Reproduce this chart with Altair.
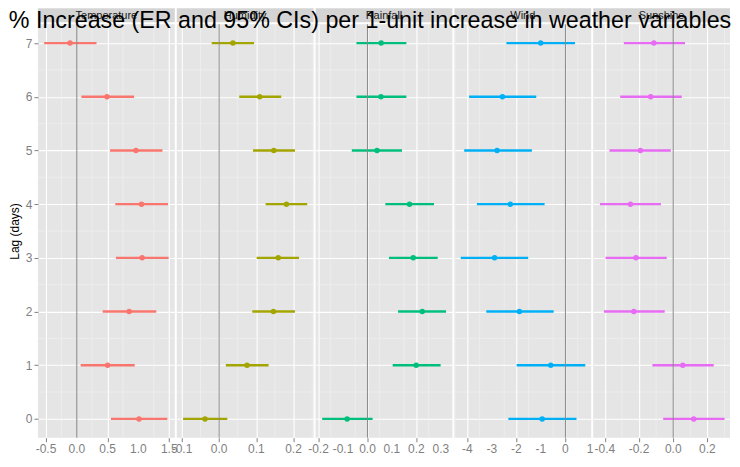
import altair as alt
import pandas as pd

lags = [0, 1, 2, 3, 4, 5, 6, 7]
variables = ["Temperature", "Humidity", "Rainfall", "Wind", "Sunshine"]
colors = ["#F8766D", "#A3A500", "#00BF7D", "#00B0F6", "#E76BF3"]

# values listed for lag 0 .. 7
temp_er = [1.01, 0.50, 0.85, 1.06, 1.05, 0.96, 0.49, -0.11]
temp_lo = [0.555, 0.064, 0.42, 0.635, 0.625, 0.54, 0.075, -0.53]
temp_hi = [1.47, 0.94, 1.29, 1.49, 1.48, 1.39, 0.93, 0.32]

hum_er = [-0.038, 0.075, 0.146, 0.159, 0.181, 0.147, 0.109, 0.037]
hum_lo = [-0.097, 0.018, 0.089, 0.101, 0.125, 0.091, 0.054, -0.020]
hum_hi = [0.022, 0.133, 0.204, 0.215, 0.237, 0.204, 0.167, 0.094]

rain_er = [-0.083, 0.199, 0.224, 0.187, 0.172, 0.039, 0.055, 0.056]
rain_lo = [-0.185, 0.103, 0.125, 0.088, 0.073, -0.064, -0.045, -0.045]
rain_hi = [0.021, 0.299, 0.321, 0.287, 0.272, 0.141, 0.159, 0.159]

wind_er = [-0.95, -0.60, -1.88, -2.89, -2.25, -2.79, -2.57, -1.01]
wind_lo = [-2.33, -1.99, -3.23, -4.27, -3.61, -4.13, -3.93, -2.41]
wind_hi = [0.45, 0.81, -0.48, -1.52, -0.85, -1.37, -1.19, 0.39]

sun_er = [0.12, 0.056, -0.23, -0.218, -0.25, -0.192, -0.132, -0.113]
sun_lo = [-0.059, -0.122, -0.405, -0.396, -0.428, -0.373, -0.31, -0.289]
sun_hi = [0.30, 0.237, -0.05, -0.038, -0.072, -0.014, 0.05, 0.069]

# axis settings per panel
x_domains = [[-0.63, 1.59], [-0.114, 0.254], [-0.212, 0.347], [-4.53, 1.05], [-0.468, 0.332]]
x_major = [[-0.5, 0.0, 0.5, 1.0, 1.5], [-0.1, 0.0, 0.1, 0.2], [-0.2, -0.1, 0.0, 0.1, 0.2, 0.3],
           [-4, -3, -2, -1, 0, 1], [-0.4, -0.2, 0.0, 0.2]]
x_labels = [["-0.5", "0.0", "0.5", "1.0", "1.5"], ["-0.1", "0.0", "0.1", "0.2"],
            ["-0.2", "-0.1", "0.0", "0.1", "0.2", "0.3"], ["-4", "-3", "-2", "-1", "0", "1"],
            ["-0.4", "-0.2", "0.0", "0.2"]]
x_minor = [[-0.25, 0.25, 0.75, 1.25], [-0.05, 0.05, 0.15, 0.25],
           [-0.15, -0.05, 0.05, 0.15, 0.25], [-4.5, -3.5, -2.5, -1.5, -0.5, 0.5],
           [-0.3, -0.1, 0.1, 0.3]]

y_major = [0, 1, 2, 3, 4, 5, 6, 7]
y_minor = [0.5, 1.5, 2.5, 3.5, 4.5, 5.5, 6.5]

title_text = "% Increase (ER and 95% CIs) per 1-unit increase in weather variables"

W = 137
H = 414
SP = 2
FONT = "Liberation Sans"
GREY = "#7F7F7F"
MINOR = "#F2F2F2"

series = [
    (temp_er, temp_lo, temp_hi),
    (hum_er, hum_lo, hum_hi),
    (rain_er, rain_lo, rain_hi),
    (wind_er, wind_lo, wind_hi),
    (sun_er, sun_lo, sun_hi),
]


def panel(i):
    er, lo, hi = series[i]
    df = pd.DataFrame({"lag": lags, "er": er, "lo": lo, "hi": hi})
    name = variables[i]
    color = colors[i]
    xaxis = alt.Axis(
        values=x_major[i],
        labels=False,
        tickColor=GREY,
        tickSize=4,
        domain=False,
        grid=True,
        gridColor="#FFFFFF",
        gridWidth=1.1,
    )
    if i == 0:
        yaxis = alt.Axis(
            values=y_major,
            format="d",
            labelOverlap=False,
            labelColor=GREY,
            labelFontSize=12,
            labelPadding=2,
            tickColor=GREY,
            tickSize=4,
            domain=False,
            grid=True,
            gridColor="#FFFFFF",
            gridWidth=1.1,
            title="Lag (days)",
            titleColor="#000000",
            titleFontSize=12,
            titleFontWeight="normal",
            titlePadding=4,
        )
    else:
        yaxis = alt.Axis(
            values=y_major,
            labels=False,
            ticks=False,
            domain=False,
            grid=True,
            gridColor="#FFFFFF",
            gridWidth=1.1,
            title=None,
        )
    xscale = alt.Scale(domain=x_domains[i], nice=False, zero=False)
    yscale = alt.Scale(domain=[-0.35, 7.35], nice=False, zero=False)
    ytitle = None if i else "Lag (days)"

    vminor = alt.Chart(pd.DataFrame({"v": x_minor[i]})).mark_rule(
        color=MINOR, strokeWidth=0.6
    ).encode(x=alt.X("v:Q", title=None))
    hminor = alt.Chart(pd.DataFrame({"h": y_minor})).mark_rule(
        color=MINOR, strokeWidth=0.6
    ).encode(y=alt.Y("h:Q", title=ytitle))

    base = alt.Chart(df)
    bars = base.mark_rule(color=color, strokeWidth=2.4).encode(
        x=alt.X("lo:Q", scale=xscale, axis=xaxis, title=None),
        x2=alt.X2("hi:Q", title=None),
        y=alt.Y("lag:Q", scale=yscale, axis=yaxis, title=ytitle),
    )
    pts = base.mark_circle(color=color, size=30, opacity=1).encode(
        x=alt.X("er:Q", title=None),
        y=alt.Y("lag:Q", title=ytitle),
    )
    zero = alt.Chart(pd.DataFrame({"z": [0]})).mark_rule(color="#888888", strokeWidth=1).encode(
        x=alt.X("z:Q", title=None)
    )
    ticklabels = alt.Chart(pd.DataFrame({"tv": x_major[i], "tl": x_labels[i]})).mark_text(
        fontSize=12, color=GREY, font=FONT, baseline="top", align="center"
    ).encode(x=alt.X("tv:Q", title=None), y=alt.value(H + 6), text="tl:N")
    sdf = pd.DataFrame({"name": [name]})
    strip = alt.Chart(sdf).mark_rect(color="#D4D4D4", clip=False).encode(
        x=alt.value(0), x2=alt.value(W), y=alt.value(-16), y2=alt.value(-2)
    )
    label = alt.Chart(sdf).mark_text(
        fontSize=11, color="#1A1A1A", font=FONT, baseline="middle", align="center"
    ).encode(x=alt.value(W / 2), y=alt.value(-8.5), text="name:N")
    layers = [vminor, hminor, strip, label, bars, pts, zero, ticklabels]
    if i == 4:
        total = 5 * W + 4 * SP
        tdf = pd.DataFrame({"t": [title_text]})
        title = alt.Chart(tdf).mark_text(
            fontSize=23.3, color="#000000", font=FONT, baseline="alphabetic", align="center"
        ).encode(x=alt.value(total / 2 - 14 - 4 * (W + SP)), y=alt.value(3.5), text="t:N")
        layers.append(title)
    return alt.layer(*layers).properties(width=W, height=H)


chart = alt.hconcat(*[panel(i) for i in range(5)], spacing=SP, bounds="flush").properties(
    padding=0,
).configure(background="white", font=FONT).configure_view(fill="#E5E5E5", stroke=None)

chart.save("out.html", embed_options={"renderer": "svg", "actions": False})
